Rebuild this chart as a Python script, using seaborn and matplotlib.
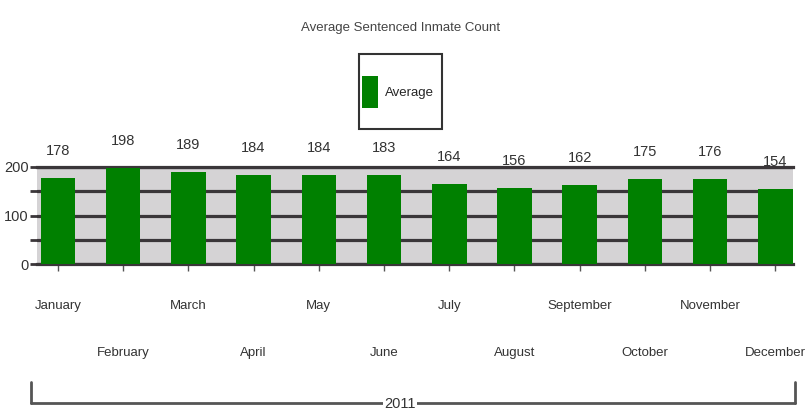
import matplotlib
matplotlib.use("Agg")
import matplotlib.pyplot as plt
import seaborn as sns
import pandas as pd

months = ["January", "February", "March", "April", "May", "June",
          "July", "August", "September", "October", "November", "December"]
averages = [178, 198, 189, 184, 184, 183, 164, 156, 162, 175, 176, 154]
series_name = "Average"
title = "Average Sentenced Inmate Count"
year_label = "2011"
y_ticks = [0, 50, 100, 150, 200]
y_tick_labels = ["0", "", "100", "", "200"]

sns.set_theme(style="white")
plt.rcParams["font.family"] = ["Liberation Sans", "DejaVu Sans"]

df = pd.DataFrame({"Month": months, series_name: averages})

W, H = 805, 417
fig = plt.figure(figsize=(W / 100, H / 100), dpi=100)
ax = fig.add_axes([37 / W, 1 - 264 / H, (793 - 37) / W, (264 - 167) / H])
ax.set_facecolor("#d5d3d5")

sns.barplot(data=df, x="Month", y=series_name, order=months, color="#008000",
            saturation=1, width=0.53, linewidth=0, edgecolor="none", ax=ax, zorder=3)

ax.set_xlim(-0.32, 11.27)
ax.set_ylim(0, 200)
ax.set_xlabel("")
ax.set_ylabel("")

grid_col = "#3a3639"
ax.set_yticks(y_ticks)
ax.set_yticklabels(y_tick_labels)
ax.grid(axis="y", color=grid_col, lw=2.3, zorder=1)
ax.set_axisbelow(True)
for s in ["left", "right"]:
    ax.spines[s].set_visible(False)
ax.spines["top"].set_color(grid_col)
ax.spines["top"].set_linewidth(2.3)
ax.spines["bottom"].set_color(grid_col)
ax.spines["bottom"].set_linewidth(2.3)
ax.tick_params(axis="y", which="major", length=5, width=2, color=grid_col,
               labelsize=10.5, labelcolor="#333333", pad=1, left=True)
ax.tick_params(axis="x", which="major", length=5, width=1, color="#555555",
               labelsize=9.5, labelcolor="#333333", bottom=True)

for i, t in enumerate(ax.xaxis.get_major_ticks()):
    t.set_pad(21 if i % 2 == 0 else 55)

for p, v in zip(ax.patches, averages):
    ax.annotate(str(v), (p.get_x() + p.get_width() / 2, p.get_height()),
                xytext=(0, 27), textcoords="offset pixels",
                ha="center", va="center", fontsize=10.5, color="#333333")

fig.text(0.497, 1 - 28 / H, title, ha="center", va="center", fontsize=9.5, color="#444444")

# legend (frame drawn separately to match the tall box)
leg = fig.legend(handles=ax.patches[:1], labels=[series_name], loc="center",
                 bbox_to_anchor=(398 / W, 1 - 92 / H), fontsize=9.5,
                 handlelength=1.2, handleheight=3.4, handletextpad=0.5,
                 frameon=False)
fig.add_artist(plt.Rectangle((359 / W, 1 - 129 / H), 83 / W, 75 / H,
                             transform=fig.transFigure, fill=False,
                             edgecolor="#333333", lw=1.5))

# year bracket
lc = "#555555"
fig.add_artist(plt.Line2D([31 / W, 795 / W], [1 - 403 / H, 1 - 403 / H], color=lc, lw=2))
fig.add_artist(plt.Line2D([31 / W, 31 / W], [1 - 382 / H, 1 - 403 / H], color=lc, lw=2))
fig.add_artist(plt.Line2D([795 / W, 795 / W], [1 - 382 / H, 1 - 403 / H], color=lc, lw=2))
fig.text(400 / W, 1 - 404 / H, year_label, ha="center", va="center", fontsize=10.5,
         color="#333333", bbox=dict(facecolor="white", edgecolor="none", pad=1))

fig.savefig("out.png", dpi=100)
